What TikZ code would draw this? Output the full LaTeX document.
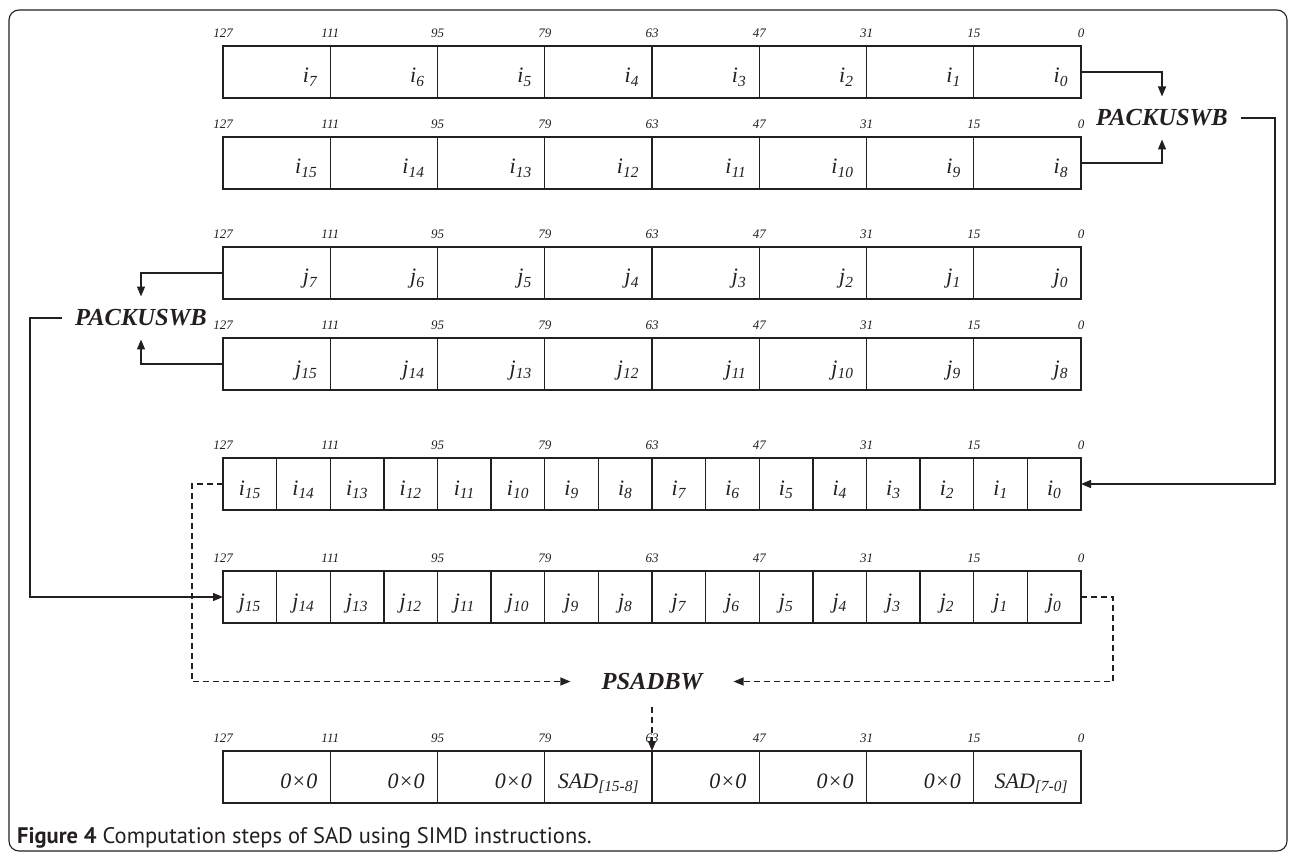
\documentclass[tikz,border=0pt]{standalone}
\usepackage{fontspec}
\setmainfont{Liberation Serif}
\newfontfamily\capfont{PT Sans}
\usepackage{tikz}
\usetikzlibrary{arrows.meta,positioning}
\definecolor{ink}{RGB}{35,31,32}
\newcommand{\elem}[2]{\textit{#1\textsubscript{#2}}}
\tikzset{
  wcell/.style={draw, rectangle, line width=1.3pt, outer sep=0pt, anchor=north west, minimum width=107.25pt, minimum height=52pt, inner ysep=0pt, inner xsep=13pt, text width=81.25pt, align=right, text height=37pt, text depth=15pt, font=\fontsize{22}{26}\selectfont\itshape},
  ncell/.style={wcell, minimum width=53.625pt, inner xsep=0pt, text width=53.625pt, align=center},
  bit/.style={font=\fontsize{13}{15}\selectfont\itshape, anchor=base, inner sep=0pt},
  op/.style={font=\fontsize{24.5}{28}\selectfont\bfseries\itshape, inner sep=13pt},
  arr/.style={-{Triangle[length=10pt,width=8pt]}, line width=1.3pt},
  darr/.style={arr, dash pattern=on 6pt off 4pt},
  capn/.style={font=\capfont\fontsize{22.5}{26}\selectfont, anchor=base west, inner sep=0pt},
}

\begin{document}
\begin{tikzpicture}[x=1pt, y=1pt, color=ink]
\useasboundingbox (0,0) rectangle (1295,-858);
\draw[line width=1.1pt, rounded corners=10pt] (9,-10) rectangle (1287,-851);
% 16-bit word registers
\foreach \k [count=\n from 0] in {7,6,...,0} {
  \node[wcell] (ilo-\k) at ({223+\n*107.25},-46) {\elem{i}{\k}};
  \node[wcell] (jlo-\k) at ({223+\n*107.25},-247) {\elem{j}{\k}};
}
\foreach \k [count=\n from 0] in {15,14,...,8} {
  \node[wcell] (ihi-\k) at ({223+\n*107.25},-137) {\elem{i}{\k}};
  \node[wcell] (jhi-\k) at ({223+\n*107.25},-338) {\elem{j}{\k}};
}
% packed byte registers
\foreach \k [count=\n from 0] in {15,14,...,0} {
  \node[ncell] (ipk-\k) at ({223+\n*53.625},-458) {\elem{i}{\k}};
  \node[ncell] (jpk-\k) at ({223+\n*53.625},-571) {\elem{j}{\k}};
}
% result register
\foreach \k/\v [count=\n from 0] in {7/0×0,6/0×0,5/0×0,4/{SAD\textsubscript{[15-8]}},3/0×0,2/0×0,1/0×0,0/{SAD\textsubscript{[7-0]}}}
  \node[wcell] (out-\k) at ({223+\n*107.25},-751) {\v};
% bit positions
\foreach \r/\y in {a/46,b/137,c/247,d/338,e/458,f/571,g/751}
  \foreach \b [count=\n from 0] in {127,111,95,79,63,47,31,15,0}
    \node[bit] (bit-\r\b) at ({223+\n*107.25},{8.5-\y}) {\b};

\node[op] (pk1) at (1162,-118) {PACKUSWB};
\node[op] (pk2) at (141,-318) {PACKUSWB};
\node[op, inner xsep=31pt, inner ysep=17pt, above=44pt of out-4.north east] (ps) {PSADBW};

\draw[arr] (ilo-0.east) -| (pk1.north);
\draw[arr] (ihi-8.east) -| (pk1.south);
\draw[arr] (pk1.east) -- ++(34,0) |- (ipk-0.east);
\draw[arr] (jlo-7.west) -| (pk2.north);
\draw[arr] (jhi-15.west) -| (pk2.south);
\draw[arr] (pk2.west) -- ++(-32,0) |- (jpk-15.west);
\draw[darr] (ipk-15.west) -- ++(-31,0) |- (ps.west);
\draw[darr] (jpk-0.east) -- ++(32,0) |- (ps.east);
\draw[darr] (ps.south) -- (out-4.north east);

\node[capn] (cap) at (17,-843) {\textbf{Figure 4} Computation steps of SAD using SIMD instructions.};
\end{tikzpicture}
\end{document}
